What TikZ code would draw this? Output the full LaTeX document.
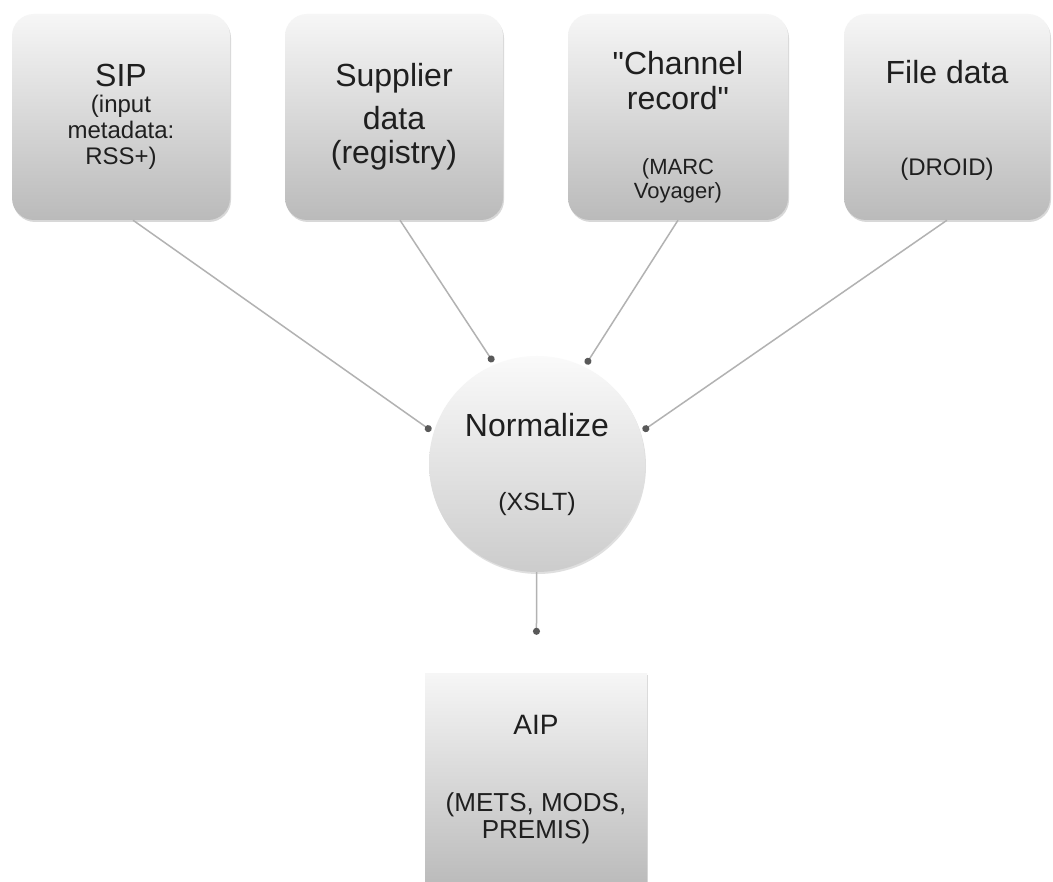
\documentclass[tikz,border=0pt]{standalone}
\usepackage{fontspec}
\setmainfont{Liberation Sans}[Ligatures=TeXOff]
\usetikzlibrary{arrows.meta,shadows}
\newcommand\bigtxt{\fontsize{32}{32}\selectfont}
\newcommand\smalltxt{\fontsize{22}{22}\selectfont}
\begin{document}
\lineskiplimit=-99pt\relax
\begin{tikzpicture}[x=1pt,y=-1pt,
  box/.style={rounded corners=22pt,minimum width=218pt,minimum height=206pt,inner sep=0pt,
    top color=gray!7,bottom color=gray!54,
    drop shadow={opacity=0.3,shadow xshift=1pt,shadow yshift=-2pt},
    align=center,text=black!88,font=\fontsize{24}{26}\selectfont},
  ball/.style={circle,minimum size=216pt,inner sep=0pt,
    top color=gray!4,bottom color=gray!40,
    drop shadow={opacity=0.25,shadow xshift=1pt,shadow yshift=-2pt},
    align=center,text=black!88,font=\fontsize{25}{26}\selectfont},
  link/.style={draw=gray!60,line width=1.5pt,-{Circle[length=7pt,color=gray!70!black]},shorten >=3pt}]
\clip (0,0) rectangle (1053,882);
\fill[white] (0,0) rectangle (1053,882);
% sources
\node[box] (sip) at (121,117) {{\bigtxt SIP}\\(input\\metadata:\\RSS+)};
\node[box] (sup) at (394,117) {{\bigtxt Supplier}\\[17pt]{\bigtxt data}\\[8pt]{\bigtxt (registry)}};
\node[box,minimum width=220pt] (chan) at (678,117)
  {{\bigtxt\rule{0pt}{44pt}"Channel}\\[9pt]{\bigtxt record"}\\[39pt]{\smalltxt (MARC}\\[-2pt]{\smalltxt Voyager)}};
\node[box,minimum width=206pt] (file) at (947,117) {{\bigtxt\rule{0pt}{30pt}File data}\\[66pt](DROID)};
% transform
\node[ball] (norm) at (537,464) {{\bigtxt Normalize}\\[48pt](XSLT)};
% result
\node[box,sharp corners,minimum width=222pt,minimum height=214pt,font=\fontsize{26}{26}\selectfont]
  (aip) at (536,780) {{\fontsize{28}{28}\selectfont AIP}\\[51pt](METS, MODS,\\[1pt]PREMIS)};
\draw[link] ([xshift=12pt]sip.south) -- (norm.163);
\draw[link] ([xshift=6pt]sup.south) -- (norm.113);
\draw[link] (chan.south) -- (norm.64);
\draw[link] (file.south) -- (norm.17);
\draw[link,shorten >=38pt] (norm) -- (aip);
\end{tikzpicture}
\end{document}
